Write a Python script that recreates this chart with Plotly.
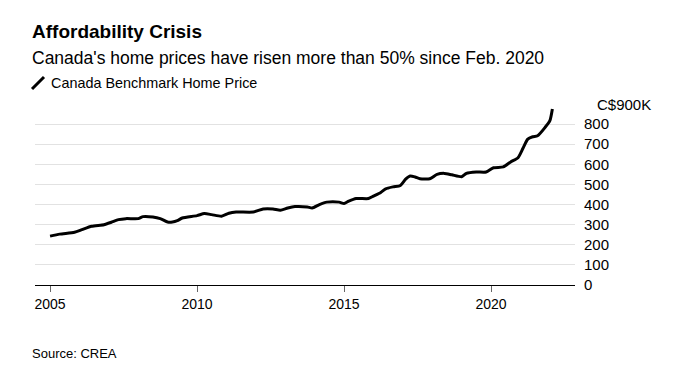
import plotly.graph_objects as go

# ---- data (C$ thousands) ----
dates = [
    "2005-01-01", "2005-05-01", "2005-11-01", "2006-02-01", "2006-06-01", "2006-11-01",
    "2007-02-01", "2007-05-01", "2007-08-01", "2008-01-01", "2008-03-01", "2008-07-01",
    "2008-10-01", "2009-01-01", "2009-03-01", "2009-05-01", "2009-07-01", "2010-01-01",
    "2010-04-01", "2010-07-01", "2010-11-01", "2011-02-01", "2011-05-01", "2011-12-01",
    "2012-04-01", "2012-08-01", "2012-11-01", "2013-02-01", "2013-05-01", "2013-10-01",
    "2013-12-01", "2014-03-01", "2014-06-01", "2014-11-01", "2015-01-01", "2015-03-01",
    "2015-06-01", "2015-11-01", "2016-01-01", "2016-04-01", "2016-06-01", "2016-09-01",
    "2016-12-01", "2017-02-01", "2017-04-01", "2017-06-01", "2017-08-01", "2017-12-01",
    "2018-03-01", "2018-06-01", "2018-09-01", "2019-01-01", "2019-03-01", "2019-07-01",
    "2019-11-01", "2020-02-01", "2020-06-01", "2020-09-01", "2020-12-01", "2021-02-01",
    "2021-04-01", "2021-06-01", "2021-08-01", "2021-11-01", "2022-01-01", "2022-02-01",
]
prices = [
    243, 253, 262, 275, 292, 300,
    312, 325, 330, 330, 340, 338,
    330, 313, 313, 320, 333, 345,
    355, 350, 342, 357, 363, 363,
    378, 378, 372, 383, 390, 388,
    383, 400, 412, 412, 405, 417,
    430, 430, 442, 460, 478, 488,
    495, 525, 542, 537, 528, 528,
    550, 555, 548, 538, 555, 562,
    562, 583, 587, 612, 633, 680,
    725, 737, 742, 783, 817, 875,
]
series_name = "Canada Benchmark Home Price"

y_tickvals = [0, 100, 200, 300, 400, 500, 600, 700, 800, 900]
y_ticktext = ["0", "100", "200", "300", "400", "500", "600", "700", "800", ""]
top_label = "C$900K"
x_tickvals = ["2005-01-01", "2010-01-01", "2015-01-01", "2020-01-01"]
x_ticktext = ["2005", "2010", "2015", "2020"]

title = "Affordability Crisis"
subtitle = "Canada's home prices have risen more than 50% since Feb. 2020"
source = "Source: CREA"

# ---- layout geometry ----
# the page body adds an 8px margin, so the figure is drawn 8px smaller and all
# reference pixel positions are shifted by -8
OFF = 8
W, H = 678 - OFF, 384 - OFF
L, R, T, B = 35 - OFF, 575 - OFF, 104 - OFF, 285 - OFF
FONT = "Liberation Sans, Arial, Helvetica, sans-serif"


def px(X):
    return (X - OFF - L) / (R - L)


def py(Y):
    return (B - (Y - OFF)) / (B - T)


fig = go.Figure()
fig.add_trace(go.Scatter(
    x=dates, y=prices, mode="lines", name=series_name,
    line=dict(color="black", width=3, shape="spline", smoothing=0.6),
    hoverinfo="skip", showlegend=False,
))

fig.update_layout(
    width=W, height=H,
    margin=dict(l=L, r=W - R, t=T, b=H - B, pad=0),
    paper_bgcolor="white", plot_bgcolor="white",
    font=dict(family=FONT, color="black"),
    showlegend=False,
    xaxis=dict(
        type="date", range=["2004-06-28", "2022-11-09"],
        tickvals=x_tickvals, ticktext=x_ticktext,
        ticks="outside", ticklen=6, tickwidth=1, tickcolor="#666",
        showgrid=False, zeroline=False,
        showline=True, linecolor="black", linewidth=1,
        tickfont=dict(size=14, color="black"),
        fixedrange=True,
    ),
    yaxis=dict(
        side="right", range=[0, 900],
        tickvals=y_tickvals, ticktext=y_ticktext,
        showgrid=True, gridcolor="#e2e2e2", gridwidth=1,
        zeroline=False, showline=False, ticks="",
        ticklabelstandoff=8,
        tickfont=dict(size=15, color="black"),
        fixedrange=True,
    ),
)

annots = [
    dict(text=f"<b>{title}</b>", x=px(30), y=py(31), xanchor="left", yanchor="middle",
         font=dict(size=19, color="black", family=FONT)),
    dict(text=subtitle, x=px(30), y=py(58), xanchor="left", yanchor="middle",
         font=dict(size=17.5, color="black", family=FONT)),
    dict(text=series_name, x=px(49), y=py(83), xanchor="left", yanchor="middle",
         font=dict(size=14.4, color="black", family=FONT)),
    dict(text=source, x=px(30), y=py(353), xanchor="left", yanchor="middle",
         font=dict(size=13, color="black", family=FONT)),
]
for a in annots:
    a.update(xref="paper", yref="paper", showarrow=False, align="left")
    fig.add_annotation(**a)

fig.add_annotation(text=top_label, xref="paper", yref="y", x=px(595), y=900,
                   xanchor="left", yanchor="middle", showarrow=False,
                   font=dict(size=15, color="black", family=FONT))

# legend swatch: diagonal slash
fig.add_shape(type="line", xref="paper", yref="paper",
              x0=px(32), y0=py(89), x1=px(44), y1=py(77),
              line=dict(color="black", width=3))

fig.write_html("out.html", config={"displayModeBar": False, "staticPlot": True})
